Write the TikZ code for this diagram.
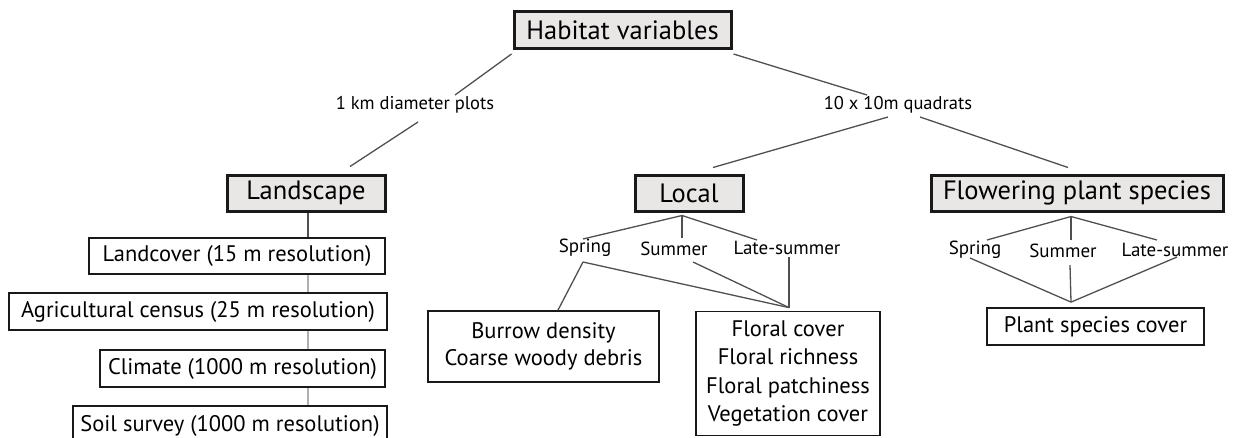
\documentclass[tikz,border=0pt]{standalone}
\usepackage{fontspec}
\setmainfont{PT Sans}
\usetikzlibrary{calc}
\definecolor{hdrfill}{RGB}{233,230,230}
\definecolor{conn}{RGB}{80,80,80}
\definecolor{faint}{RGB}{175,175,175}
\tikzset{
  hdr/.style={draw=black!90, line width=3pt, fill=hdrfill, inner sep=0pt, font=\fontsize{26.5}{30}\selectfont},
  cbox/.style={draw=black!90, line width=1.8pt, fill=white, inner sep=0pt, font=\fontsize{22.5}{28}\selectfont, align=center},
  lbl/.style={inner sep=0pt, font=\fontsize{19}{22}\selectfont},
  slbl/.style={inner sep=0pt, font=\fontsize{18.5}{22}\selectfont},
  link/.style={draw=conn, line width=1.3pt},
  flink/.style={draw=faint, line width=1.3pt}
}
\begin{document}
\begin{tikzpicture}[x=1pt,y=-1pt]
\useasboundingbox (0,0) rectangle (1233,437);
% headers
\node[hdr, minimum width=217pt, minimum height=37pt] (hab) at (622.5,30) {Habitat variables};
\node[hdr, minimum width=158pt, minimum height=36pt] (land) at (306,193) {Landscape};
\node[hdr, minimum width=108pt, minimum height=36pt] (loc) at (689,193) {Local};
\node[hdr, minimum width=292pt, minimum height=36pt] (flow) at (1077,193) {Flowering plant species};
% scale labels
\node[slbl] (km) at (415,105) {1 km diameter plots};
\node[slbl] (quad) at (898,105) {10 x 10m quadrats};
% landscape boxes
\node[cbox, minimum width=296pt, minimum height=36pt] (lc) at (237,256) {Landcover (15 m resolution)};
\node[cbox, minimum width=378pt, minimum height=37pt] (ag) at (198,311.5) {Agricultural census (25 m resolution)};
\node[cbox, minimum width=285pt, minimum height=37pt] (cl) at (242.5,368.5) {Climate (1000 m resolution)};
\node[cbox, minimum width=314pt, minimum height=40pt] (soil) at (230,426) {Soil survey (1000 m resolution)};
% local
\node[lbl] (lsp) at (585,248) {Spring};
\node[lbl] (lsu) at (674,249) {Summer};
\node[lbl] (lla) at (787,248) {Late-summer};
\node[cbox, minimum width=231pt, minimum height=71pt, font=\fontsize{22.5}{27}\selectfont] (bur) at (543.5,346.5) {Burrow density\\Coarse woody debris};
\node[cbox, minimum width=184pt, minimum height=124pt] (flo) at (788,373.5) {Floral cover\\Floral richness\\Floral patchiness\\Vegetation cover};
% flowering
\node[lbl] (fsp) at (975,250) {Spring};
\node[lbl] (fsu) at (1063,251) {Summer};
\node[lbl] (fla) at (1175,250) {Late-summer};
\node[cbox, minimum width=217pt, minimum height=37pt] (pl) at (1095.5,326.5) {Plant species cover};
% top connectors
\draw[link] ([shift={(-1,4)}]hab.south west) -- ([shift={(40,-10)}]km.center);
\draw[link] ([shift={(3,17)}]km.center) -- ([shift={(44,-7)}]land.north);
\draw[link] ([shift={(1,4)}]hab.south east) -- ([shift={(-31,-10)}]quad.center);
\draw[link] ([shift={(-10,12)}]quad.center) -- ([shift={(24,-6)}]loc.north);
\draw[link] ([shift={(22,12)}]quad.center) -- ([shift={(-9,-6)}]flow.north);
% landscape spine
\coordinate (spine) at (308,0);
\draw[link] (spine |- land.south) -- (spine |- lc.north);
\draw[flink] (spine |- lc.south) -- (spine |- ag.north);
\draw[flink] (spine |- ag.south) -- (spine |- cl.north);
\draw[flink] (spine |- cl.south) -- (spine |- soil.north);
% local connectors
\coordinate (lapex) at ([shift={(-7,3)}]loc.south);
\draw[link] (lapex) -- ([shift={(-2,-9)}]lsp.center);
\draw[link] (lapex) -- ([shift={(8,-11)}]lsu.center);
\draw[link] (lapex) -- ([shift={(-30,-8)}]lla.center);
\coordinate (fapex) at ([shift={(1,-3)}]flo.north);
\draw[link] ([shift={(-2,14)}]lsp.center) -- ([shift={(14.5,0)}]bur.north);
\draw[link] ([shift={(-2,14)}]lsp.center) -- (fapex);
\draw[link] ([shift={(19,13)}]lsu.center) -- (fapex);
\draw[link] ([shift={(2,9)}]lla.center) -- (fapex);
% flowering connectors
\coordinate (papex) at ([shift={(-6,4)}]flow.south);
\draw[link] (papex) -- ([shift={(12,-10)}]fsp.center);
\draw[link] (papex) -- ([shift={(8,-11)}]fsu.center);
\draw[link] (papex) -- ([shift={(-18,-10)}]fla.center);
\coordinate (qapex) at ([shift={(-24.5,-5)}]pl.north);
\draw[link] ([shift={(-5,8)}]fsp.center) -- (qapex);
\draw[link] ([shift={(7,14)}]fsu.center) -- (qapex);
\draw[link] ([shift={(2,7)}]fla.center) -- (qapex);
\end{tikzpicture}
\end{document}
